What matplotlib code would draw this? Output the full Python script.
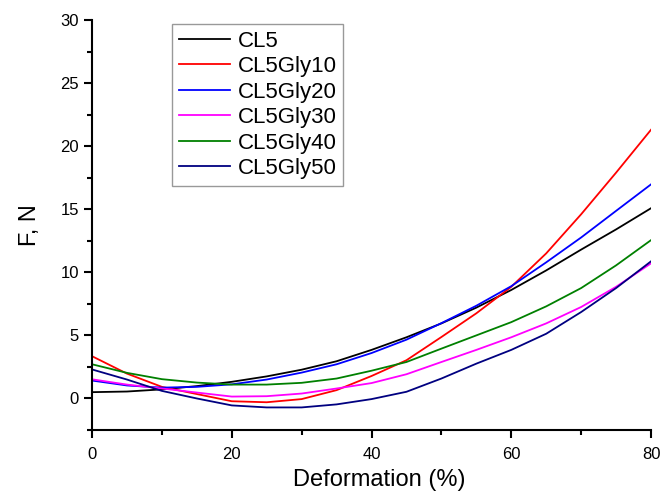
import matplotlib
matplotlib.use("Agg")
import matplotlib.pyplot as plt
from matplotlib.ticker import MultipleLocator

plt.rcParams['font.family'] = ['Liberation Sans', 'DejaVu Sans']

deformation = [0, 5, 10, 15, 20, 25, 30, 35, 40, 45, 50, 55, 60, 65, 70, 75, 80]
cl5 = [0.5, 0.55, 0.72, 0.98, 1.32, 1.75, 2.28, 2.95, 3.85, 4.85, 5.95, 7.2, 8.6, 10.15, 11.8, 13.4, 15.08]
cl5gly10 = [3.35, 1.97, 0.92, 0.35, -0.22, -0.3, -0.05, 0.66, 1.78, 3.03, 4.87, 6.75, 8.85, 11.5, 14.6, 17.9, 21.3]
cl5gly20 = [1.42, 1.03, 0.86, 0.92, 1.12, 1.5, 2.05, 2.71, 3.6, 4.66, 5.97, 7.35, 8.9, 10.79, 12.76, 14.87, 16.97]
cl5gly30 = [1.52, 1.1, 0.79, 0.47, 0.15, 0.18, 0.39, 0.79, 1.22, 1.92, 2.89, 3.85, 4.85, 5.95, 7.25, 8.85, 10.71]
cl5gly40 = [2.71, 2.03, 1.53, 1.26, 1.1, 1.1, 1.24, 1.58, 2.2, 2.89, 3.95, 5.0, 6.05, 7.3, 8.75, 10.55, 12.55]
cl5gly50 = [2.3, 1.5, 0.6, 0.0, -0.55, -0.71, -0.71, -0.47, -0.05, 0.53, 1.58, 2.76, 3.85, 5.13, 6.85, 8.75, 10.87]

series = [
    ("CL5", cl5, "#000000"),
    ("CL5Gly10", cl5gly10, "#ff0000"),
    ("CL5Gly20", cl5gly20, "#0000ff"),
    ("CL5Gly30", cl5gly30, "#ff00ff"),
    ("CL5Gly40", cl5gly40, "#008000"),
    ("CL5Gly50", cl5gly50, "#000080"),
]

fig = plt.figure(figsize=(6.62, 4.95), dpi=100)
ax = fig.add_axes([0.139, 0.1313, 0.8444, 0.8283])

for name, vals, color in series:
    ax.plot(deformation, vals, color=color, lw=1.3, label=name)

ax.set_xlim(0, 80)
ax.set_ylim(-2.5, 30)
ax.xaxis.set_major_locator(MultipleLocator(20))
ax.xaxis.set_minor_locator(MultipleLocator(10))
ax.yaxis.set_major_locator(MultipleLocator(5))
ax.yaxis.set_minor_locator(MultipleLocator(2.5))

for s in ("top", "right"):
    ax.spines[s].set_visible(False)
for s in ("left", "bottom"):
    ax.spines[s].set_linewidth(1.5)

ax.tick_params(which="major", direction="out", length=5.5, width=1.5, labelsize=12)
ax.tick_params(axis="x", which="major", pad=7)
ax.tick_params(axis="y", which="major", pad=4)
ax.tick_params(which="minor", direction="out", length=3.5, width=1.5)

ax.set_xlabel("Deformation (%)", fontsize=17, labelpad=5)
ax.xaxis.label.set_x(0.513)
ax.set_ylabel("F, N", fontsize=17, labelpad=14)

leg = ax.legend(loc="upper left", bbox_to_anchor=(0.143, 0.99), fontsize=16,
                frameon=True, fancybox=False, edgecolor="#808080",
                handlelength=2.3, handletextpad=0.35, labelspacing=0.2,
                borderpad=0.3, borderaxespad=0)
leg.get_frame().set_linewidth(1.0)

fig.savefig("out.png", dpi=100)
